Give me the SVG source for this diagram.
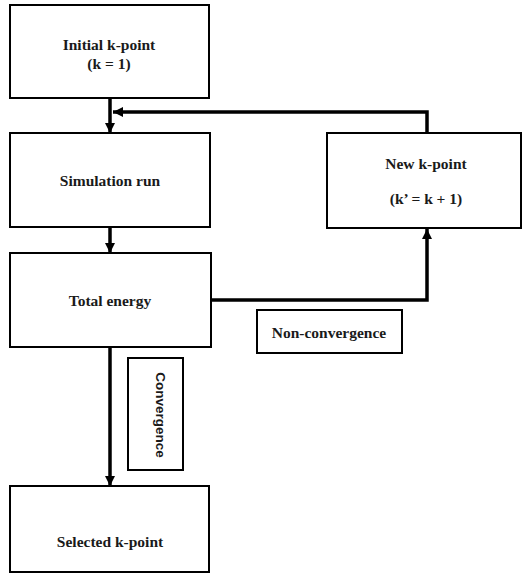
<svg xmlns="http://www.w3.org/2000/svg" width="523" height="583" viewBox="0 0 523 583">
<defs>
<style>
.box{fill:#fff;stroke:#000;stroke-width:2}
.t{font-family:"Liberation Serif","Times New Roman",serif;font-weight:bold;font-size:15.5px;fill:#1a1a1a;text-anchor:middle}
.s{font-family:"Liberation Sans",Arial,sans-serif;font-weight:bold;font-size:13.5px;fill:#1a1a1a;text-anchor:middle}
.c{fill:none;stroke:#000;stroke-width:3.5}
</style>
<marker id="ah" viewBox="0 0 10 10" refX="10" refY="5" markerWidth="10" markerHeight="10" markerUnits="userSpaceOnUse" orient="auto">
<path d="M0,0 L10,5 L0,10 z" fill="#000"/>
</marker>
</defs>
<rect width="523" height="583" fill="#fff"/>
<g id="connectors">
<path class="c" d="M110,98 V133" marker-end="url(#ah)"/>
<path class="c" d="M427,133 V112 H113" marker-end="url(#ah)"/>
<path class="c" d="M110,227 V253" marker-end="url(#ah)"/>
<path class="c" d="M211,300 H427 V229" marker-end="url(#ah)"/>
<path class="c" d="M110,347 V486" marker-end="url(#ah)"/>
</g>
<g id="initial">
<rect class="box" x="10" y="5" width="199" height="93"/>
<text class="t" x="109" y="50">Initial k-point</text>
<text class="t" x="109" y="69">(k = 1)</text>
</g>
<g id="simulation">
<rect class="box" x="10" y="133" width="200" height="94"/>
<text class="t" x="110" y="186">Simulation run</text>
</g>
<g id="total">
<rect class="box" x="10" y="253" width="201" height="94"/>
<text class="t" x="110" y="306">Total energy</text>
</g>
<g id="newk">
<rect class="box" x="327" y="133" width="194" height="95"/>
<text class="t" x="426" y="169">New k-point</text>
<text class="t" x="426" y="204">(k’ = k + 1)</text>
</g>
<g id="nonconv">
<rect class="box" x="257" y="310" width="145" height="43"/>
<text class="t" x="329" y="338">Non-convergence</text>
</g>
<g id="conv">
<rect class="box" x="128" y="358" width="55" height="112"/>
<text class="s" transform="translate(156,415) rotate(90)" x="0" y="0">Convergence</text>
</g>
<g id="selected">
<rect class="box" x="10" y="486" width="199" height="86"/>
<text class="t" x="110" y="547">Selected k-point</text>
</g>
</svg>
